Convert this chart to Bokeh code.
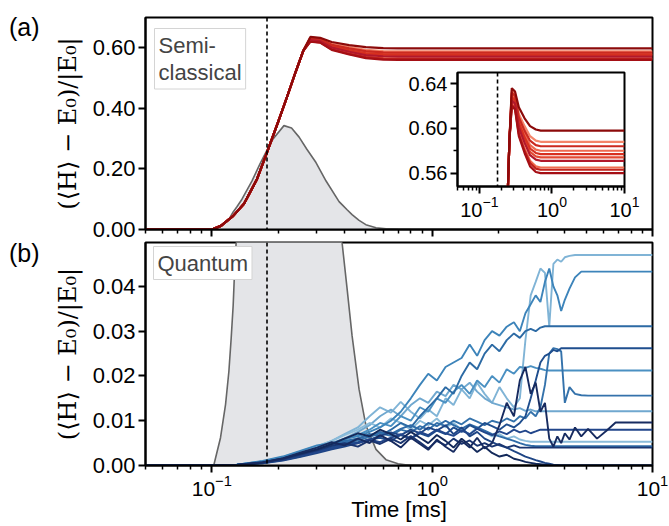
from bokeh.plotting import figure
from bokeh.layouts import column
from bokeh.models import (Range1d, FixedTicker, NumeralTickFormatter, Label, Span,
                          CustomJSTickFormatter, Div)
from bokeh.embed import file_html
from bokeh.resources import INLINE

# ------------------------------------------------------------------ data
x_major = [0.1, 1.0, 10.0]
x_minor = [0.05, 0.06, 0.07, 0.08, 0.09, 0.2, 0.3, 0.4, 0.5, 0.6, 0.7, 0.8, 0.9,
           2, 3, 4, 5, 6, 7, 8, 9]
ticks_a = [0.0, 0.2, 0.4, 0.6]
ticks_b = [0.0, 0.01, 0.02, 0.03, 0.04]
ticks_inset = [0.56, 0.60, 0.64]
minor_inset = [0.58, 0.62]
dash_t = 0.178

# pump pulse (grey), panel (a) and panel (b)
pulse_a_t = [0.10, 0.102, 0.11, 0.1154, 0.12, 0.125, 0.13, 0.137, 0.152, 0.165,
             0.178, 0.19, 0.2125, 0.23, 0.249, 0.27, 0.297, 0.33, 0.378, 0.39,
             0.41, 0.433, 0.466, 0.50, 0.556, 0.617, 0.70, 0.80]
pulse_a_v = [0.0, 0.0005, 0.011, 0.022, 0.036, 0.058, 0.075, 0.10, 0.16, 0.215,
             0.262, 0.30, 0.343, 0.335, 0.305, 0.265, 0.221, 0.16, 0.092, 0.082,
             0.066, 0.049, 0.030, 0.016, 0.006, 0.002, 0.0005, 0.0]
pulse_b_t = [0.10, 0.102, 0.1095, 0.1154, 0.1195, 0.1224, 0.125, 0.1268, 0.129, 0.135,
             0.20, 0.37, 0.39, 0.41, 0.433, 0.466, 0.50, 0.556, 0.617, 0.70, 0.80]
pulse_b_v = [0.0, 0.0, 0.0062, 0.0136, 0.021, 0.0284, 0.0358, 0.0433, 0.050, 0.060,
             0.20, 0.060, 0.0498, 0.040, 0.029, 0.017, 0.009, 0.0036, 0.0013, 0.0004, 0.0]

# semi-classical trajectories (red)
t_red = [0.05, 0.10, 0.11, 0.125, 0.14, 0.16, 0.178, 0.20, 0.22, 0.24, 0.26,
         0.28, 0.31, 0.35, 0.42, 0.50, 0.60, 0.70, 10.0]
red_rise = [0.0, 0.0, 0.012, 0.045, 0.085, 0.165, 0.255, 0.355, 0.44, 0.52, 0.59]
red_tail_1 = [0.636, 0.633, 0.619, 0.609, 0.602, 0.599, 0.598, 0.598]
red_tail_2 = [0.634, 0.631, 0.613, 0.602, 0.593, 0.589, 0.588, 0.588]
red_tail_3 = [0.632, 0.629, 0.610, 0.598, 0.589, 0.585, 0.584, 0.584]
red_tail_4 = [0.630, 0.627, 0.608, 0.595, 0.585, 0.581, 0.580, 0.580]
red_tail_5 = [0.628, 0.625, 0.605, 0.592, 0.582, 0.578, 0.577, 0.577]
red_tail_6 = [0.627, 0.624, 0.603, 0.590, 0.579, 0.575, 0.574, 0.574]
red_tail_7 = [0.625, 0.622, 0.601, 0.587, 0.576, 0.572, 0.571, 0.571]
red_tail_8 = [0.623, 0.620, 0.597, 0.582, 0.571, 0.566, 0.565, 0.565]
red_tail_9 = [0.621, 0.618, 0.595, 0.580, 0.569, 0.564, 0.563, 0.563]
red_tail_10 = [0.620, 0.617, 0.593, 0.578, 0.566, 0.561, 0.560, 0.560]
red_tails = [red_tail_2, red_tail_4, red_tail_6, red_tail_8, red_tail_5,
             red_tail_3, red_tail_9, red_tail_7, red_tail_10, red_tail_1]
red_colors = ["#f4856a", "#ee6a50", "#e34a33", "#f06c4f", "#d7301f",
              "#cb2a20", "#c0221c", "#b2182b", "#a50f15", "#8c0a0a"]

# quantum trajectories (blue)
t_blue = [0.05, 0.10, 0.13, 0.17, 0.21, 0.25, 0.30, 0.35, 0.40, 0.46,
          0.52, 0.58, 0.65, 0.72, 0.80, 0.88, 0.96, 1.05, 1.15, 1.25,
          1.36, 1.48, 1.60, 1.73, 1.87, 2.02, 2.18, 2.35, 2.50, 2.65,
          2.80, 2.95, 3.10, 3.25, 3.40, 3.55, 3.70, 3.85, 4.00, 4.20,
          4.45, 4.75, 5.10, 5.60, 6.20, 6.80, 7.60, 10.0]
blue_1 = [0, 0, 0.0002, 0.0008, 0.0018, 0.0030, 0.0042, 0.0055, 0.0070, 0.0085,
          0.0110, 0.0130, 0.0118, 0.0142, 0.0120, 0.0105, 0.0125, 0.0110, 0.0150, 0.0135,
          0.0170, 0.0150, 0.0185, 0.0160, 0.0140, 0.0175, 0.0150, 0.0130, 0.0150, 0.0280,
          0.0380, 0.0410, 0.0440, 0.0430, 0.0310, 0.0450, 0.0460, 0.0455, 0.0465, 0.0468,
          0.0470, 0.0470, 0.0470, 0.0470, 0.0470, 0.0470, 0.0470, 0.0470]
blue_2 = [0, 0, 0.0002, 0.0010, 0.0020, 0.0032, 0.0045, 0.0050, 0.0060, 0.0065,
          0.0075, 0.0085, 0.0100, 0.0120, 0.0150, 0.0180, 0.0205, 0.0190, 0.0220, 0.0230,
          0.0240, 0.0270, 0.0245, 0.0280, 0.0300, 0.0290, 0.0310, 0.0320, 0.0300, 0.0340,
          0.0360, 0.0380, 0.0365, 0.0410, 0.0440, 0.0400, 0.0380, 0.0345, 0.0370, 0.0395,
          0.0420, 0.0433, 0.0433, 0.0433, 0.0433, 0.0433, 0.0433, 0.0433]
blue_3 = [0, 0, 0.0002, 0.0008, 0.0016, 0.0026, 0.0035, 0.0045, 0.0055, 0.0060,
          0.0070, 0.0065, 0.0080, 0.0095, 0.0085, 0.0110, 0.0130, 0.0150, 0.0175, 0.0160,
          0.0200, 0.0230, 0.0215, 0.0250, 0.0270, 0.0255, 0.0280, 0.0295, 0.0285, 0.0300,
          0.0305, 0.0300, 0.0308, 0.0311, 0.0311, 0.0311, 0.0311, 0.0311, 0.0311, 0.0311,
          0.0311, 0.0311, 0.0311, 0.0311, 0.0311, 0.0311, 0.0311, 0.0311]
blue_4 = [0, 0, 0.0001, 0.0006, 0.0014, 0.0024, 0.0032, 0.0040, 0.0048, 0.0052,
          0.0058, 0.0062, 0.0055, 0.0068, 0.0060, 0.0072, 0.0065, 0.0078, 0.0070, 0.0085,
          0.0075, 0.0090, 0.0082, 0.0095, 0.0088, 0.0080, 0.0092, 0.0085, 0.0095, 0.0110,
          0.0150, 0.0190, 0.0230, 0.0245, 0.0250, 0.0258, 0.0255, 0.0262, 0.0262, 0.0262,
          0.0262, 0.0262, 0.0262, 0.0262, 0.0262, 0.0262, 0.0262, 0.0262]
blue_5 = [0, 0, 0.0002, 0.0009, 0.0018, 0.0028, 0.0038, 0.0046, 0.0058, 0.0068,
          0.0080, 0.0095, 0.0088, 0.0110, 0.0100, 0.0130, 0.0120, 0.0150, 0.0140, 0.0165,
          0.0180, 0.0160, 0.0190, 0.0175, 0.0200, 0.0185, 0.0215, 0.0205, 0.0220, 0.0218,
          0.0222, 0.0218, 0.0216, 0.0213, 0.0212, 0.0212, 0.0212, 0.0212, 0.0212, 0.0212,
          0.0212, 0.0212, 0.0212, 0.0212, 0.0212, 0.0212, 0.0212, 0.0212]
blue_6 = [0, 0, 0.0002, 0.0007, 0.0015, 0.0025, 0.0033, 0.0042, 0.0050, 0.0056,
          0.0064, 0.0072, 0.0066, 0.0080, 0.0074, 0.0088, 0.0080, 0.0095, 0.0088, 0.0100,
          0.0092, 0.0105, 0.0098, 0.0090, 0.0100, 0.0095, 0.0105, 0.0098, 0.0110, 0.0105,
          0.0120, 0.0110, 0.0130, 0.0180, 0.0250, 0.0262, 0.0260, 0.0255, 0.0140, 0.0175,
          0.0160, 0.0157, 0.0156, 0.0156, 0.0156, 0.0156, 0.0156, 0.0156]
blue_7 = [0, 0, 0.0002, 0.0008, 0.0017, 0.0027, 0.0036, 0.0048, 0.0060, 0.0075,
          0.0090, 0.0110, 0.0125, 0.0110, 0.0135, 0.0150, 0.0140, 0.0165, 0.0155, 0.0180,
          0.0170, 0.0185, 0.0165, 0.0150, 0.0140, 0.0135, 0.0130, 0.0125, 0.0128, 0.0122,
          0.0125, 0.0121, 0.0121, 0.0121, 0.0121, 0.0121, 0.0121, 0.0121, 0.0121, 0.0121,
          0.0121, 0.0121, 0.0121, 0.0121, 0.0121, 0.0121, 0.0121, 0.0121]
blue_8 = [0, 0, 0.0001, 0.0007, 0.0016, 0.0028, 0.0040, 0.0052, 0.0045, 0.0060,
          0.0050, 0.0068, 0.0055, 0.0040, 0.0062, 0.0048, 0.0035, 0.0058, 0.0042, 0.0030,
          0.0055, 0.0040, 0.0062, 0.0038, 0.0050, 0.0090, 0.0140, 0.0110, 0.0190, 0.0220,
          0.0160, 0.0185, 0.0120, 0.0140, 0.0060, 0.0042, 0.0065, 0.0050, 0.0072, 0.0058,
          0.0085, 0.0065, 0.0082, 0.0060, 0.0078, 0.0096, 0.0096, 0.0096]
blue_9 = [0, 0, 0.0001, 0.0006, 0.0013, 0.0022, 0.0030, 0.0038, 0.0045, 0.0050,
          0.0058, 0.0052, 0.0062, 0.0070, 0.0060, 0.0075, 0.0068, 0.0080, 0.0072, 0.0066,
          0.0078, 0.0070, 0.0082, 0.0074, 0.0068, 0.0076, 0.0070, 0.0080, 0.0074, 0.0078,
          0.0072, 0.0076, 0.0080, 0.0080, 0.0080, 0.0080, 0.0080, 0.0080, 0.0080, 0.0080,
          0.0080, 0.0080, 0.0080, 0.0080, 0.0080, 0.0080, 0.0080, 0.0080]
blue_10 = [0, 0, 0.0002, 0.0009, 0.0019, 0.0031, 0.0043, 0.0055, 0.0068, 0.0080,
           0.0095, 0.0085, 0.0105, 0.0095, 0.0080, 0.0100, 0.0090, 0.0105, 0.0085, 0.0095,
           0.0080, 0.0070, 0.0085, 0.0075, 0.0065, 0.0070, 0.0060, 0.0065, 0.0058, 0.0055,
           0.0053, 0.0053, 0.0053, 0.0053, 0.0053, 0.0053, 0.0053, 0.0053, 0.0053, 0.0053,
           0.0053, 0.0053, 0.0053, 0.0053, 0.0053, 0.0053, 0.0053, 0.0053]
blue_11 = [0, 0, 0.0001, 0.0005, 0.0012, 0.0020, 0.0030, 0.0040, 0.0052, 0.0060,
           0.0068, 0.0075, 0.0070, 0.0082, 0.0090, 0.0080, 0.0095, 0.0088, 0.0100, 0.0090,
           0.0082, 0.0092, 0.0085, 0.0078, 0.0070, 0.0065, 0.0060, 0.0055, 0.0050, 0.0046,
           0.0044, 0.0043, 0.0043, 0.0043, 0.0043, 0.0043, 0.0043, 0.0043, 0.0043, 0.0043,
           0.0043, 0.0043, 0.0043, 0.0043, 0.0043, 0.0043, 0.0043, 0.0043]
blue_12 = [0, 0, 0.0001, 0.0006, 0.0014, 0.0024, 0.0034, 0.0044, 0.0050, 0.0042,
           0.0056, 0.0048, 0.0060, 0.0050, 0.0066, 0.0052, 0.0038, 0.0055, 0.0045, 0.0060,
           0.0048, 0.0056, 0.0044, 0.0050, 0.0042, 0.0048, 0.0040, 0.0045, 0.0040, 0.0040,
           0.0040, 0.0040, 0.0040, 0.0040, 0.0040, 0.0040, 0.0040, 0.0040, 0.0040, 0.0040,
           0.0040, 0.0040, 0.0040, 0.0040, 0.0040, 0.0040, 0.0040, 0.0040]
blue_13 = [0, 0, 0.0001, 0.0007, 0.0016, 0.0026, 0.0036, 0.0048, 0.0060, 0.0072,
           0.0065, 0.0080, 0.0070, 0.0058, 0.0075, 0.0062, 0.0050, 0.0068, 0.0055, 0.0040,
           0.0060, 0.0045, 0.0030, 0.0042, 0.0028, 0.0020, 0.0024, 0.0015, 0.0012, 0.0008,
           0.0006, 0.0004, 0.0003, 0.0002, 0.0001, 0.0, 0.0, 0.0, 0.0, 0.0,
           0.0, 0.0, 0.0, 0.0, 0.0, 0.0, 0.0, 0.0]
blue_14 = [0, 0, 0.0001, 0.0005, 0.0011, 0.0019, 0.0028, 0.0036, 0.0042, 0.0050,
           0.0058, 0.0066, 0.0074, 0.0068, 0.0080, 0.0072, 0.0085, 0.0078, 0.0090, 0.0070,
           0.0085, 0.0065, 0.0075, 0.0060, 0.0052, 0.0045, 0.0040, 0.0032, 0.0026, 0.0020,
           0.0016, 0.0012, 0.0009, 0.0006, 0.0004, 0.0002, 0.0001, 0.0, 0.0, 0.0,
           0.0, 0.0, 0.0, 0.0, 0.0, 0.0, 0.0, 0.0]
blue_series = [blue_1, blue_7, blue_10, blue_5, blue_2, blue_3, blue_6,
               blue_11, blue_4, blue_14, blue_9, blue_12, blue_13, blue_8]
blue_colors = ["#80b4d6", "#70a8cf", "#8bbcda", "#4a90c2", "#3d84ba", "#2c6aa4", "#3472ab",
               "#2f6ba7", "#1f4e8e", "#1e4585", "#22468b", "#1a3570", "#13295a", "#172b60"]

ylabel = "(\u27e8H\u27e9 \u2212 E\u2080)/|E\u2080|"

# ------------------------------------------------------------------ helpers
SANS = "Liberation Sans"
W = 668
HA = 241
HB = 284
LEFT = 145
RIGHT = 16


def style(p, label_size="22px"):
    p.xgrid.visible = False
    p.ygrid.visible = False
    p.outline_line_color = "black"
    p.outline_line_width = 2
    p.outline_line_alpha = 1.0
    p.background_fill_color = "white"
    for ax in p.axis:
        ax.axis_line_width = 2
        ax.major_tick_line_width = 2
        ax.minor_tick_line_width = 1.5
        ax.major_tick_out = 7
        ax.major_tick_in = 0
        ax.minor_tick_out = 4
        ax.minor_tick_in = 0
        ax.major_label_text_font = SANS
        ax.major_label_text_font_size = label_size
        ax.major_label_text_color = "black"
        ax.major_label_standoff = 3
        ax.axis_label_text_font_style = "normal"
        ax.axis_label_text_color = "black"


def draw_pulse(p, t, v):
    p.varea(x=t, y1=[0.0] * len(t), y2=v, fill_color="#e4e5e8")
    p.line(t, v, line_color="#666666", line_width=1.6)


# ------------------------------------------------------------------ panel (a)
pa = figure(width=W, height=HA, x_axis_type="log",
            x_range=Range1d(0.05, 10), y_range=Range1d(0.0, 0.70),
            output_backend="svg", toolbar_location=None,
            min_border_left=LEFT, min_border_right=RIGHT,
            min_border_top=17, min_border_bottom=12)
style(pa)
pa.border_fill_color = "white"
pa.xaxis.ticker = FixedTicker(ticks=x_major, minor_ticks=x_minor)
pa.xaxis.formatter = CustomJSTickFormatter(code="return ''")
pa.xaxis.major_label_text_font_size = "1px"
pa.xaxis.major_label_standoff = 0
pa.yaxis.ticker = FixedTicker(ticks=ticks_a)
pa.yaxis.formatter = NumeralTickFormatter(format="0.00")
pa.yaxis.axis_label = ylabel
pa.yaxis.axis_label_text_font = "DejaVu Serif"
pa.yaxis.axis_label_text_font_size = "24px"
pa.yaxis.axis_label_standoff = 8

draw_pulse(pa, pulse_a_t, pulse_a_v)
for tail, col in zip(red_tails, red_colors):
    pa.line(t_red, red_rise + tail, line_color=col, line_width=2.2)
pa.add_layout(Span(location=dash_t, dimension="height", line_color="black",
                   line_width=1.6, line_dash="4 3"))
pa.add_layout(Label(x=9, y=201, x_units="screen", y_units="screen",
                    text="Semi-\nclassical", text_font=SANS, text_font_size="22px",
                    text_align="left", text_baseline="top", text_line_height=1.1,
                    background_fill_color="white", border_line_color="#d4d4d4",
                    border_line_width=1, padding=4))

# ------------------------------------------------------------------ panel (b)
pb = figure(width=W, height=HB, x_axis_type="log",
            x_range=Range1d(0.05, 10), y_range=Range1d(0.0, 0.0498),
            output_backend="svg", toolbar_location=None,
            min_border_left=LEFT, min_border_right=RIGHT,
            min_border_top=1, min_border_bottom=60)
style(pb, label_size="21px")
pb.border_fill_color = "white"
pb.xaxis.ticker = FixedTicker(ticks=x_major, minor_ticks=x_minor)
pb.xaxis.major_label_standoff = 2
pb.xaxis.axis_label = "Time [ms]"
pb.xaxis.axis_label_text_font = SANS
pb.xaxis.axis_label_text_font_size = "22px"
pb.xaxis.axis_label_standoff = -2
pb.yaxis.ticker = FixedTicker(ticks=ticks_b)
pb.yaxis.formatter = NumeralTickFormatter(format="0.00")
pb.yaxis.major_label_text_font_size = "22px"
pb.yaxis.axis_label = ylabel
pb.yaxis.axis_label_text_font = "DejaVu Serif"
pb.yaxis.axis_label_text_font_size = "24px"
pb.yaxis.axis_label_standoff = 8

draw_pulse(pb, pulse_b_t, pulse_b_v)
for ys, col in zip(blue_series, blue_colors):
    pb.line(t_blue, ys, line_color=col, line_width=1.9)
pb.add_layout(Span(location=dash_t, dimension="height", line_color="black",
                   line_width=1.6, line_dash="4 3"))
pb.add_layout(Label(x=8, y=219, x_units="screen", y_units="screen",
                    text="Quantum", text_font=SANS, text_font_size="22px",
                    text_align="left", text_baseline="top",
                    background_fill_color="white", border_line_color="#d4d4d4",
                    border_line_width=1, padding=4))

# ------------------------------------------------------------------ inset (absolutely placed over panel a)
# borders equal to the main panels so that the column keeps them aligned
ins = figure(width=LEFT + 167 + RIGHT, height=154, x_axis_type="log",
             x_range=Range1d(0.05, 10), y_range=Range1d(0.548, 0.65),
             output_backend="svg", toolbar_location=None,
             min_border_left=LEFT, min_border_right=RIGHT,
             min_border_top=6, min_border_bottom=34,
             styles={"position": "absolute", "left": "312px", "top": "66px"})
style(ins, label_size="20px")
ins.border_fill_alpha = 0.0
ins.xaxis.ticker = FixedTicker(ticks=x_major, minor_ticks=x_minor)
ins.yaxis.ticker = FixedTicker(ticks=ticks_inset, minor_ticks=minor_inset)
ins.yaxis.formatter = NumeralTickFormatter(format="0.00")
ins.xaxis.major_label_standoff = 2
for tail, col in zip(red_tails, red_colors):
    ins.line(t_red, red_rise + tail, line_color=col, line_width=2.2)
ins.add_layout(Span(location=dash_t, dimension="height", line_color="black",
                    line_width=1.6, line_dash="4 3"))

# ------------------------------------------------------------------ panel letters
lab_style = {"position": "absolute", "font-family": SANS, "font-size": "25px",
             "color": "black", "line-height": "28px"}
lab_a = Div(text="(a)", width=44, height=28,
            styles=dict(lab_style, left="4px", top="8px"))
lab_b = Div(text="(b)", width=44, height=28,
            styles=dict(lab_style, left="4px", top="234px"))

layout = column(pa, pb, ins, lab_a, lab_b, spacing=0)

open("out.html", "w").write(file_html(layout, INLINE))
